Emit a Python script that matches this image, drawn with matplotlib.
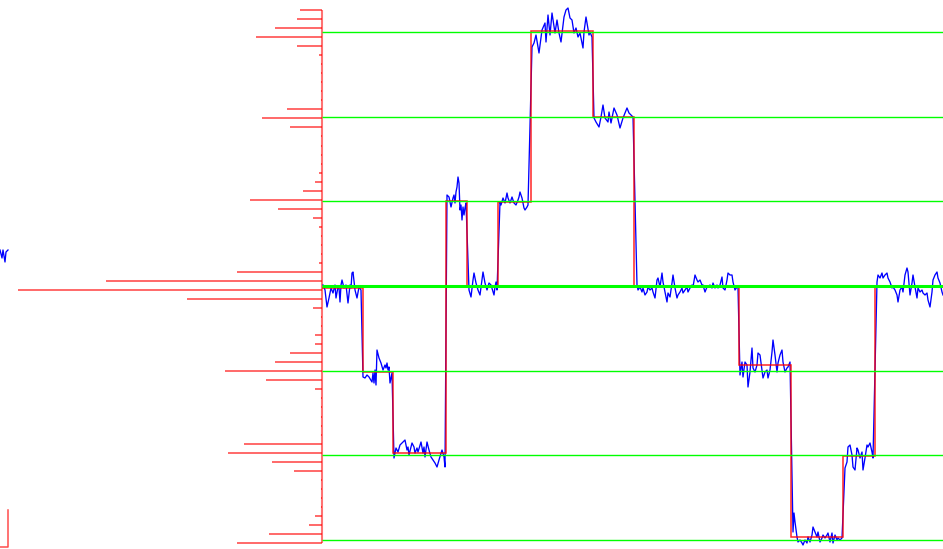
import numpy as np
import matplotlib
matplotlib.use("Agg")
import matplotlib.pyplot as plt

# green reference levels
levels = [254, 169, 85, 0, -85, -169, -254]

# red fitted step signal
step_edges = [0, 41, 71, 124, 145, 176, 209, 271, 312, 417, 469, 521, 553, 621]
step_levels = [-2, -86, -167, 85, -1, 84, 255, 169, -1, -79, -251, -170, -1]

# blue measured signal (one line per plateau)
blue_t = [1, 3, 5, 7, 9, 11, 13, 14, 16, 17, 18, 19, 20, 22, 24, 26, 28, 29, 30, 31, 33, 35, 37, 39,
          41, 43, 45, 47, 50, 51, 52, 53, 54, 55, 57, 59, 61, 63, 64, 65, 66, 67, 68, 70,
          72, 74, 76, 78, 81, 83, 85, 86, 87, 90, 92, 93, 95, 96, 99, 101, 102, 103, 105, 107, 109, 111,
          113, 115, 117, 120, 122, 123,
          125, 127, 129, 131, 132, 133, 134, 135, 136, 137, 138, 139, 140, 141, 142, 143, 144,
          147, 149, 151, 152, 154, 156, 158, 160, 161, 163, 165, 167, 169, 172, 173, 174, 175,
          178, 179, 181, 183, 185, 186, 188, 190, 192, 194, 196, 197, 198, 200, 202, 203, 205, 206,
          210, 212, 214, 217, 220, 223, 224, 226, 228, 230, 233, 235, 237, 239, 242, 244, 246, 248,
          250, 252, 254, 256, 258, 261, 262, 264, 267, 268, 270,
          272, 274, 277, 279, 281, 283, 286, 287, 289, 292, 295, 298, 301, 305, 307, 309, 311,
          315, 316, 318, 320, 321, 323, 325, 326, 328, 330, 331, 333, 335, 336, 338, 340, 341, 343,
          345, 346, 348, 350, 351, 353, 355, 356, 358, 360, 361, 363, 365, 366, 368, 370, 371, 373,
          375, 376, 378, 380, 381, 383, 385, 386, 388, 390, 391, 393, 395, 396, 398, 400, 401, 403,
          405, 406, 408, 410, 411, 413, 415, 416,
          418, 420, 421, 423, 425, 426, 428, 430, 431, 433, 435, 436, 438, 440, 441, 443, 445, 446,
          448, 450, 451, 453, 455, 456, 458, 460, 461, 463, 465, 466, 468,
          471, 472, 473, 475, 476, 478, 480, 481, 483, 485, 486, 488, 490, 491, 493, 495, 496, 498,
          500, 501, 503, 505, 506, 508, 510, 511, 513, 515, 516, 518, 520,
          523, 525, 526, 528, 530, 531, 533, 535, 536, 538, 540, 541, 543, 545, 546, 548, 550, 551,
          555, 556, 558, 560, 561, 563, 565, 566, 568, 570, 571, 573, 575, 576, 578, 580, 581, 583,
          585, 586, 588, 590, 591, 593, 595, 596, 598, 600, 601, 603, 605, 606, 608, 610, 611, 613,
          615, 616, 618, 620, 621]
blue_v = [1, -4, -21, -12, -2, -7, 1, -12, -1, -2, -16, 1, 6, -2, 1, -17, 1, -2, 13, 14, -4, -12, -1, -4,
          -91, -92, -89, -91, -96, -87, -97, -84, -99, -64, -72, -77, -84, -79, -82, -77, -84, -81, -97, -87,
          -172, -162, -166, -159, -156, -154, -164, -161, -169, -157, -161, -167, -162, -166, -156, -167,
          -161, -171, -156, -164, -171, -174,
          -177, -181, -174, -164, -171, -181,
          91, 89, 79, 88, 91, 83, 94, 99, 109, 103, 76, 81, 66, 79, 71, 78, 83,
          -4, -11, 6, 13, 3, -4, -9, 6, 14, 3, -4, 3, 1, -9, -1, 4, -4,
          84, 81, 88, 83, 93, 88, 83, 89, 83, 81, 86, 89, 94, 88, 78, 76, 79, 81,
          239, 243, 251, 233, 256, 263, 244, 271, 251, 273, 253, 266, 253, 244, 269, 276, 278, 268,
          266, 253, 258, 249, 253, 238, 254, 269, 251, 254, 249,
          168, 164, 159, 169, 181, 168, 164, 174, 163, 178, 171, 158, 168, 178, 173, 171, 169,
          1, -4, -1, -6, -2, -9, -6, -1, -4, -2, -6, -12, 6, 8, -1, 13, 4, -6,
          -16, -7, -11, 3, 11, -2, -12, -9, -6, -2, -7, -4, -1, -6, -2, 1, -1, 11,
          6, 4, 6, 1, 1, -6, -1, -1, 1, -2, 3, -2, 1, -2, 1, 9, -2, -4,
          6, 13, 11, 11, 4, -4, -1, -2,
          -89, -76, -91, -76, -79, -101, -86, -62, -82, -86, -79, -67, -69, -84, -92, -86, -84, -92,
          -84, -66, -54, -69, -86, -77, -69, -64, -76, -86, -82, -81, -76,
          -246, -227, -236, -251, -256, -254, -257, -259, -254, -257, -251, -256, -249, -241, -246, -251, -246, -256,
          -252, -249, -252, -249, -247, -256, -247, -257, -249, -254, -252, -254, -252,
          -182, -176, -161, -159, -169, -181, -184, -162, -164, -172, -166, -184, -172, -159, -161, -157, -166, -172,
          4, 11, 8, 13, 8, 11, 13, 8, 4, -2, -1, -4, -9, -16, -4, -1, -6, 11,
          18, 14, -9, 3, 11, -1, -12, -2, -6, -4, -7, -9, -7, -14, -21, -6, 6, 11,
          14, 8, 3, -6, -9]

# histogram of the blue signal (drawn to the left)
hist_counts = [22, 25, 47, 66, 25, 3, 1, 1, 1, 1, 1, 35, 60, 32, 1, 1, 1, 1, 3, 7,
               19, 72, 44, 9, 3, 1, 1, 1, 3, 85, 216, 304, 135, 9, 1, 1, 7, 7, 32, 47,
               97, 56, 7, 1, 1, 1, 1, 1, 78, 94, 50, 28, 1, 1, 1, 1, 7, 13, 53, 85]
hist_centers = np.linspace(276, -257, len(hist_counts))

# leftover fragments at the far left edge
frag_blue_t = [-322, -320, -319, -317, -316, -314]
frag_blue_v = [36, 28, 36, 24, 34, 36]
frag_red_t = [-330, -314, -314]
frag_red_v = [-261, -261, -224]

fig = plt.figure(figsize=(9.43, 5.49), dpi=100)
ax = fig.add_axes([0, 0, 1, 1])
ax.axis('off')

ax.hlines(hist_centers, -np.array(hist_counts), 0, color='red', alpha=0.75, lw=1.1, zorder=2)
ax.vlines(0, hist_centers[-1], hist_centers[0], color='red', alpha=0.55, lw=1.5, zorder=2)

ax.plot(blue_t, blue_v, color='blue', lw=0.95, zorder=3)
ax.plot(frag_blue_t, frag_blue_v, color='blue', lw=0.95, zorder=3)
ax.stairs(step_levels, step_edges, color='red', alpha=0.85, lw=1.1, baseline=None, zorder=4)
ax.plot(frag_red_t, frag_red_v, color='red', alpha=0.7, lw=1.1, zorder=4)

for lev in levels:
    ax.hlines(lev, 0, step_edges[-1], color='#00ff00', lw=2.2 if lev == 0 else 1.0, zorder=5)

ax.set_xlim(-322, 621)
ax.set_ylim(-263, 286)

fig.savefig('out.png', dpi=100)
